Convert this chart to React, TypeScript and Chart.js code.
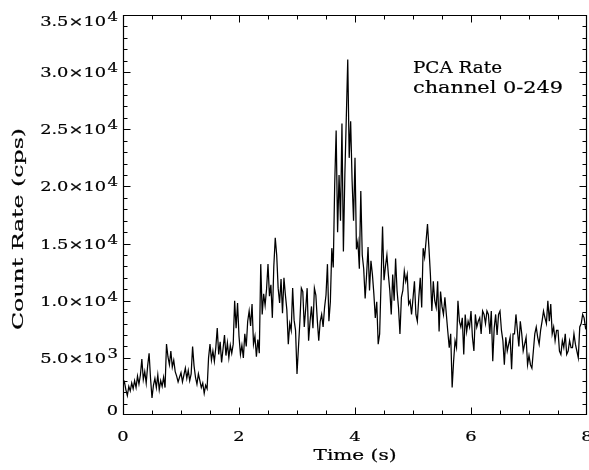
import React, { useEffect, useRef } from "react";
import { Chart, registerables } from "chart.js";

Chart.register(...registerables);

// ---- data ----
const BIN_WIDTH = 0.025; // seconds per light-curve bin
const rates = [
  2600, 2900, 2200, 1700, 2500, 2100, 2800, 2300, 3000, 2400,
  3400, 2700, 3500, 4900, 3100, 3800, 2800, 4300, 5400, 3200,
  1500, 2600, 3200, 2400, 3500, 2200, 3000, 2500, 3300, 2400,
  6200, 5100, 4400, 5600, 4200, 4800, 3800, 3400, 2900, 3300,
  3700, 2900, 3500, 4100, 3200, 3900, 3000, 3600, 6000, 4300,
  3300, 2700, 3600, 3000, 2400, 2800, 1900, 2600, 2300, 5000,
  6200, 4800, 5600, 4700, 5900, 7600, 5300, 6400, 4600, 5800,
  7000, 5200, 6300, 5000, 6100, 5400, 6200, 10000, 7600, 9800,
  6900, 5300, 6100, 5000, 7100, 6000, 8200, 9100, 7800, 9700,
  6200, 6900, 5100, 6600, 5400, 13200, 8800, 10600, 9600, 11000,
  13200, 10400, 11400, 8500, 13000, 15500, 14000, 11100, 9800, 11900,
  8900, 12000, 10500, 9200, 6200, 8000, 7400, 11100, 8300, 7400,
  3600, 5900, 8200, 11100, 10800, 7700, 9300, 11100, 6500, 8200,
  9500, 7600, 11100, 10500, 8300, 6500, 8200, 8800, 7700, 9400,
  10500, 13200, 8200, 9900, 14600, 12900, 20200, 24900, 16000, 21000,
  17000, 25500, 14300, 21000, 26000, 31100, 22500, 25700, 20500, 17000,
  22500, 14500, 15200, 12800, 19600, 14000, 12800, 10200, 12300, 14700,
  10900, 13500, 12300, 10600, 8500, 9900, 6200, 7100, 11800, 16500,
  11800, 13000, 14000, 12300, 10900, 8800, 12300, 10000, 13700, 10900,
  9400, 7100, 10300, 10900, 12600, 11700, 12300, 9700, 10000, 8800,
  10200, 11700, 8800, 8200, 10300, 12000, 9400, 14600, 13800, 15200,
  16700, 14600, 12300, 9100, 11700, 10000, 9400, 11700, 7300, 10800,
  9500, 8800, 10300, 8800, 7300, 5900, 7100, 2400, 4700, 6500,
  5900, 10000, 8200, 7700, 8500, 5300, 8800, 7300, 8200, 7700,
  9100, 6800, 5600, 8800, 7700, 8200, 8500, 7100, 9100, 8800,
  8000, 9100, 8800, 7100, 9100, 4700, 7600, 8800, 7000, 8800,
  9100, 7400, 6500, 4400, 6800, 5600, 6200, 6800, 4000, 7100,
  7100, 8800, 7400, 6000, 8200, 7100, 5600, 6200, 6800, 4400,
  5200, 4400, 4100, 5600, 7100, 7700, 6800, 6200, 7400, 8200,
  9100, 8500, 8000, 10000, 8200, 9700, 7100, 7700, 6500, 7400,
  7400, 5600, 5300, 6500, 5900, 7100, 5300, 5600, 6500, 5900,
  5900, 7100, 6200, 5600, 5000, 7700, 8000, 8800, 8500, 7600,
  7800,
];
const times = rates.map((_, i) => i * BIN_WIDTH);

const xMin = 0;
const xMax = 8;
const xTickValues = [0, 2, 4, 6, 8];
const xTickLabels = ["0", "2", "4", "6", "8"];
const xMinorStep = 0.5;

const yMin = 0;
const yMax = 35000;
const yTickValues = [0, 5000, 10000, 15000, 20000, 25000, 30000, 35000];
const yTickLabels = ["0", "5.0×10^3", "1.0×10^4", "1.5×10^4", "2.0×10^4", "2.5×10^4", "3.0×10^4", "3.5×10^4"];
const yMinorStep = 1000;

const xTitle = "Time (s)";
const yTitle = "Count Rate (cps)";
const annotationLines = ["PCA Rate", "channel 0-249"];

const FONT = '"DejaVu Serif", "Liberation Serif", serif';

function drawText(
  ctx: CanvasRenderingContext2D,
  text: string,
  x: number,
  y: number,
  size: number,
  align: "left" | "right" | "center",
  stretch: number,
  targetWidth?: number
) {
  ctx.save();
  ctx.font = `${size}px ${FONT}`;
  const w = ctx.measureText(text).width;
  const s = targetWidth ? targetWidth / w : stretch;
  const sw = w * s;
  const x0 = align === "left" ? x : align === "right" ? x - sw : x - sw / 2;
  ctx.translate(x0, y);
  ctx.scale(s, 1);
  ctx.textAlign = "left";
  ctx.textBaseline = "alphabetic";
  ctx.fillStyle = "#000";
  ctx.strokeStyle = "#000";
  ctx.lineWidth = 0.2;
  ctx.fillText(text, 0, 0);
  ctx.strokeText(text, 0, 0);
  ctx.restore();
  return sw;
}

function measure(ctx: CanvasRenderingContext2D, text: string, size: number, stretch: number) {
  ctx.save();
  ctx.font = `${size}px ${FONT}`;
  const w = ctx.measureText(text).width * stretch;
  ctx.restore();
  return w;
}

const TICK_SIZE = 13;
const TICK_STRETCH = 1.37;
const SUP_SIZE = 12;

const axesPlugin = {
  id: "idlAxes",
  afterDraw(chart: any) {
    const ctx: CanvasRenderingContext2D = chart.ctx;
    const { left, right, top, bottom } = chart.chartArea;
    const xs = chart.scales.x;
    const ys = chart.scales.y;
    const L = Math.round(left) + 0.5;
    const R = Math.round(right) - 0.5;
    const T = Math.round(top) + 0.5;
    const B = Math.round(bottom) - 0.5;

    ctx.save();
    ctx.strokeStyle = "#000";
    ctx.lineWidth = 1.2;
    ctx.beginPath();
    ctx.rect(L, T, R - L, B - T);
    ctx.stroke();

    const MAJ = 7;
    const MIN = 4;
    ctx.lineWidth = 1;
    ctx.beginPath();
    // x ticks (bottom and top)
    for (let v = xMin; v <= xMax + 1e-9; v += xMinorStep) {
      const isMajor = xTickValues.some((t) => Math.abs(t - v) < 1e-9);
      const len = isMajor ? MAJ : MIN;
      let px = Math.round(xs.getPixelForValue(v)) + 0.5;
      if (px > R) px = R;
      ctx.moveTo(px, B);
      ctx.lineTo(px, B - len);
      ctx.moveTo(px, T);
      ctx.lineTo(px, T + len);
    }
    // y ticks (left and right)
    for (let v = yMin; v <= yMax + 1e-9; v += yMinorStep) {
      const isMajor = yTickValues.some((t) => Math.abs(t - v) < 1e-9);
      const len = isMajor ? MAJ : MIN;
      let py = Math.round(ys.getPixelForValue(v)) + 0.5;
      if (py > B) py = B;
      ctx.moveTo(L, py);
      ctx.lineTo(L + len, py);
      ctx.moveTo(R, py);
      ctx.lineTo(R - len, py);
    }
    ctx.stroke();

    // x tick labels
    xTickValues.forEach((v, i) => {
      const px = xs.getPixelForValue(v);
      drawText(ctx, xTickLabels[i], px, B + 26.5, TICK_SIZE, "center", TICK_STRETCH);
    });

    // y tick labels
    yTickValues.forEach((v, i) => {
      const label = yTickLabels[i];
      const [main, sup] = label.split("^");
      const py = ys.getPixelForValue(v);
      let base = py + 5;
      base = Math.max(base, T + 10.5);
      base = Math.min(base, B);
      const rightX = L - 5.5;
      if (sup) {
        const supW = measure(ctx, sup, SUP_SIZE, TICK_STRETCH);
        drawText(ctx, sup, rightX, base - 5, SUP_SIZE, "right", TICK_STRETCH);
        drawText(ctx, main, rightX - supW - 1.5, base, TICK_SIZE, "right", TICK_STRETCH);
      } else {
        drawText(ctx, main, rightX, base, TICK_SIZE, "right", TICK_STRETCH);
      }
    });

    // axis titles
    drawText(ctx, xTitle, (L + R) / 2, 460, 14, "center", 1, 83);
    ctx.save();
    ctx.translate(23, 229);
    ctx.rotate(-Math.PI / 2);
    drawText(ctx, yTitle, 0, 0, 14, "center", 1, 202);
    ctx.restore();

    // annotation
    drawText(ctx, annotationLines[0], 413, 73, 17, "left", 1, 89);
    drawText(ctx, annotationLines[1], 413, 93, 17, "left", 1, 150);

    ctx.restore();
  },
};

export default function App() {
  const canvasRef = useRef<HTMLCanvasElement | null>(null);

  useEffect(() => {
    const canvas = canvasRef.current;
    if (!canvas) return;
    const points = rates.map((r, i) => ({ x: times[i], y: r }));
    const chart = new Chart(canvas, {
      type: "line",
      data: {
        datasets: [
          {
            data: points,
            borderColor: "#000",
            borderWidth: 1.25,
            pointRadius: 0,
            tension: 0,
            fill: false,
          },
        ],
      },
      options: {
        animation: false,
        responsive: false,
        devicePixelRatio: 1,
        layout: { padding: { top: 15, right: 2, left: 0, bottom: 0 } },
        plugins: { legend: { display: false }, tooltip: { enabled: false }, title: { display: false } },
        scales: {
          x: {
            type: "linear",
            min: xMin,
            max: xMax,
            grid: { display: false },
            border: { display: false },
            ticks: { display: false },
            afterBuildTicks: (s: any) => {
              s.ticks = xTickValues.map((v) => ({ value: v }));
            },
            afterFit: (s: any) => {
              s.height = 55;
            },
          },
          y: {
            type: "linear",
            min: yMin,
            max: yMax,
            grid: { display: false },
            border: { display: false },
            ticks: { display: false },
            afterBuildTicks: (s: any) => {
              s.ticks = yTickValues.map((v) => ({ value: v }));
            },
            afterFit: (s: any) => {
              s.width = 123;
            },
          },
        },
      } as any,
      plugins: [axesPlugin],
    });
    return () => chart.destroy();
  }, []);

  return (
    <div style={{ position: "fixed", left: 0, top: 0, width: 589, height: 470, background: "#fff" }}>
      <canvas ref={canvasRef} width={589} height={470} style={{ display: "block" }} />
    </div>
  );
}
